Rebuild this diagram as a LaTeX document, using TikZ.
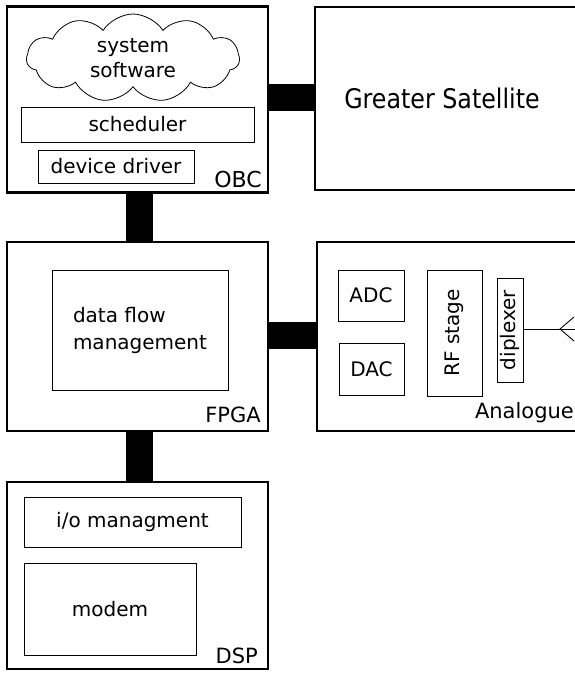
\documentclass[tikz,border=0pt]{standalone}
\usepackage{fontspec}
\setmainfont{DejaVu Sans}
\newfontfamily\condfont[FakeStretch=0.88]{DejaVu Sans}
\usetikzlibrary{shapes.symbols}
\begin{document}
\begin{tikzpicture}[x=1pt,y=-1pt,
  outerbox/.style={draw,line width=2.6pt,rectangle,inner sep=0pt},
  innerbox/.style={draw,line width=0.9pt,rectangle,inner sep=0pt,font=\fontsize{20}{25}\selectfont},
  boxlabel/.style={font=\fontsize{21}{24}\selectfont,inner sep=0pt,anchor=base east},
  bus/.style={line width=27pt},
  wire/.style={line width=0.9pt}]
\useasboundingbox (0,0) rectangle (575,673);
\clip (0,0) rectangle (575,673);
% outer boxes
\node[outerbox,minimum width=261pt,minimum height=186pt] (obc) at (137.5,99.5) {};
\node[outerbox,minimum width=290pt,minimum height=183pt] (gs) at (460,98.5) {};
\node[outerbox,minimum width=261pt,minimum height=189pt] (fpga) at (137.5,336.5) {};
\node[outerbox,minimum width=290pt,minimum height=189pt] (ana) at (462,336.5) {};
\node[outerbox,minimum width=261pt,minimum height=187pt] (dsp) at (137.5,575.5) {};
% buses
\draw[bus] (obc.east |- 0,97.5) -- (gs.west |- 0,97.5);
\draw[bus] (obc.south -| 139.5,0) -- (fpga.north -| 139.5,0);
\draw[bus] (fpga.east |- 0,335) -- (ana.west |- 0,335);
\draw[bus] (fpga.south -| 139.5,0) -- (dsp.north -| 139.5,0);
% OBC content
\node[cloud,draw,line width=0.8pt,cloud puffs=11,cloud puff arc=115,cloud ignores aspect,
  minimum width=213pt,minimum height=88pt,inner sep=0pt,align=center,
  font=\fontsize{20}{25}\selectfont] (cloud) at (133,58) {system\\software};
\node[innerbox,minimum width=233pt,minimum height=35pt] (sched) at (137.5,124.5) {scheduler};
\node[innerbox,minimum width=156pt,minimum height=33pt] (dd) at (116,166.5) {device driver};
\node[boxlabel,font=\fontsize{22}{24}\selectfont] (obcl) at (262,187) {OBC};
% Greater Satellite
\node[font=\condfont\fontsize{27}{30}\selectfont,inner sep=0pt] (gst) at (442,98) {Greater Satellite};
% FPGA content
\node[innerbox,minimum width=176pt,minimum height=120pt,align=left,font=\fontsize{20}{27}\selectfont] (dfm) at (140,330) {data flow\\management};
\node[boxlabel] (fpgal) at (261,422) {FPGA};
% Analogue content
\node[innerbox,minimum width=66pt,minimum height=51pt] (adc) at (371,295.5) {ADC};
\node[innerbox,minimum width=65pt,minimum height=52pt] (dac) at (371.5,369) {DAC};
\node[innerbox,minimum width=126pt,minimum height=55pt,rotate=90] (rf) at (454.5,333) {RF stage};
\node[innerbox,minimum width=104pt,minimum height=26pt,rotate=90] (dip) at (510,330) {diplexer};
\coordinate (ant) at (560,329);
\coordinate (edge) at (580,329);
\draw[wire] (dip.south |- ant) -- (edge);
\coordinate (antu) at (574,317);
\coordinate (antd) at (574,341);
\draw[wire] (antu) -- (ant) -- (antd);
\node[boxlabel] (anal) at (574,418) {Analogue};
% DSP content
\node[innerbox,minimum width=217pt,minimum height=50pt] (io) at (132.5,522) {i/o managment};
\node[innerbox,minimum width=172pt,minimum height=92pt] (modem) at (110,609) {modem};
\node[boxlabel] (dspl) at (258,663) {DSP};
\end{tikzpicture}
\end{document}
